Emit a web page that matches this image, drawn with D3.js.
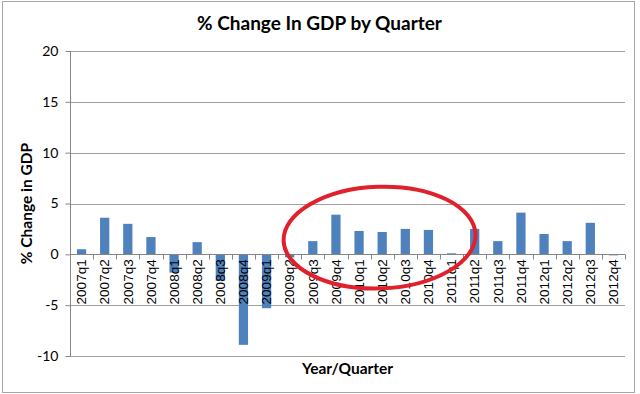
<!DOCTYPE html>
<html>
<head>
<meta charset="utf-8">
<script src="https://cdn.jsdelivr.net/npm/d3@7"></script>
<style>
  body { margin: 0; background: #fff; }
  svg { display: block; }
  .title { font-family: Lato, "Open Sans", sans-serif; font-weight: bold; font-size: 19px; fill: #000; }
  .axis-title { font-family: Lato, "Open Sans", sans-serif; font-weight: bold; font-size: 15.5px; fill: #000; }
  .y-axis text { font-family: Lato, "Open Sans", sans-serif; font-size: 14px; fill: #000; }
  .x-label { font-family: "Liberation Sans", Arial, sans-serif; font-size: 13.5px; fill: #000; }
</style>
</head>
<body>
<div id="chart"></div>
<script>
// ---------- Data ----------
const quarters = [
  '2007q1', '2007q2', '2007q3', '2007q4',
  '2008q1', '2008q2', '2008q3', '2008q4',
  '2009q1', '2009q2', '2009q3', '2009q4',
  '2010q1', '2010q2', '2010q3', '2010q4',
  '2011q1', '2011q2', '2011q3', '2011q4',
  '2012q1', '2012q2', '2012q3', '2012q4'
]
const gdpChange = [
  0.5, 3.6, 3.0, 1.7,
  -1.8, 1.2, -2.6, -8.9,
  -5.3, -0.3, 1.3, 3.9,
  2.3, 2.2, 2.5, 2.4,
  0.1, 2.5, 1.3, 4.1,
  2.0, 1.3, 3.1, -0.1
]
const yTicks = [-10, -5, 0, 5, 10, 15, 20]

// ---------- Dimensions ----------
const width = 640
const height = 394
const margin = { top: 51, right: 15, bottom: 38, left: 70 }
const innerW = width - margin.left - margin.right
const innerH = height - margin.top - margin.bottom

const x = d3.scaleBand()
  .domain(quarters)
  .range([0, innerW])
  .paddingInner(0.6)
  .paddingOuter(0.3)

// boundaries between categories (for tick marks)
const step = innerW / quarters.length
const xEdge = d3.scaleLinear().domain([0, quarters.length]).range([0, innerW])

const y = d3.scaleLinear()
  .domain([-10, 20])
  .range([innerH, 0])

const svg = d3.select('#chart')
  .append('svg')
  .attr('width', width)
  .attr('height', height)

// outer chart border
svg.append('rect')
  .attr('x', 2.5)
  .attr('y', 1.5)
  .attr('width', 632)
  .attr('height', 391)
  .attr('fill', '#fff')
  .attr('stroke', '#a6a6a6')

const g = svg.append('g')
  .attr('transform', `translate(${margin.left},${margin.top})`)

// ---------- Grid lines ----------
g.append('g')
  .attr('class', 'grid')
  .selectAll('line')
  .data(yTicks)
  .join('line')
  .attr('x1', 0)
  .attr('x2', innerW)
  .attr('y1', d => Math.round(y(d)) + 0.5)
  .attr('y2', d => Math.round(y(d)) + 0.5)
  .attr('stroke', '#a0a0a0')

// ---------- Y axis ----------
g.append('g')
  .attr('class', 'y-axis')
  .attr('transform', 'translate(0.5,0)')
  .call(d3.axisLeft(y).tickValues(yTicks).tickSize(5).tickPadding(7).tickFormat(d3.format('d')))
  .call(ax => ax.select('.domain').attr('stroke', '#868686').attr('d', `M0,${y(20)}V${y(-10)}`))
  .call(ax => ax.selectAll('.tick line').attr('stroke', '#868686'))
  .call(ax => ax.selectAll('.tick text').text(d => d < 0 ? '-' + Math.abs(d) : d))

// ---------- Bars ----------
g.append('g')
  .selectAll('rect')
  .data(quarters.map((q, i) => ({ q, v: gdpChange[i] })))
  .join('rect')
  .attr('x', d => x(d.q))
  .attr('width', x.bandwidth())
  .attr('y', d => y(Math.max(0, d.v)))
  .attr('height', d => Math.abs(y(d.v) - y(0)))
  .attr('fill', '#4f81bd')

// ---------- X axis (at zero) ----------
const y0 = Math.round(y(0)) + 0.5
g.append('line')
  .attr('x1', 0)
  .attr('x2', innerW)
  .attr('y1', y0)
  .attr('y2', y0)
  .attr('stroke', '#868686')

g.append('g')
  .selectAll('line')
  .data(d3.range(quarters.length + 1))
  .join('line')
  .attr('x1', i => Math.round(xEdge(i)) + 0.5)
  .attr('x2', i => Math.round(xEdge(i)) + 0.5)
  .attr('y1', y0)
  .attr('y2', y0 + 5)
  .attr('stroke', '#868686')

// rotated category labels below the zero line
g.append('g')
  .selectAll('text')
  .data(quarters)
  .join('text')
  .attr('class', 'x-label')
  .attr('transform', d => `translate(${x(d) + x.bandwidth() / 2},${y(0) + 5}) rotate(-90)`)
  .attr('text-anchor', 'end')
  .attr('dy', '0.35em')
  .text(d => d)

// ---------- Titles ----------
svg.append('text')
  .attr('class', 'title')
  .attr('x', margin.left + innerW / 2 - 28)
  .attr('y', 30)
  .attr('text-anchor', 'middle')
  .text('% Change In GDP by Quarter')

svg.append('text')
  .attr('class', 'axis-title')
  .attr('transform', `translate(32,${y(5) + margin.top}) rotate(-90)`)
  .attr('text-anchor', 'middle')
  .text('% Change in GDP')

svg.append('text')
  .attr('class', 'axis-title')
  .attr('x', margin.left + innerW / 2)
  .attr('y', 374)
  .attr('text-anchor', 'middle')
  .text('Year/Quarter')

// ---------- Red hand-drawn circle annotation ----------
g.append('ellipse')
  .attr('cx', x('2010q2') + 2)
  .attr('cy', y(1.65))
  .attr('rx', step * 4.15)
  .attr('ry', y(0) - y(5))
  .attr('transform', `rotate(-2,${x('2010q2') + 2},${y(1.65)})`)
  .attr('fill', 'none')
  .attr('stroke', '#e0212b')
  .attr('stroke-width', 4)
</script>
</body>
</html>
